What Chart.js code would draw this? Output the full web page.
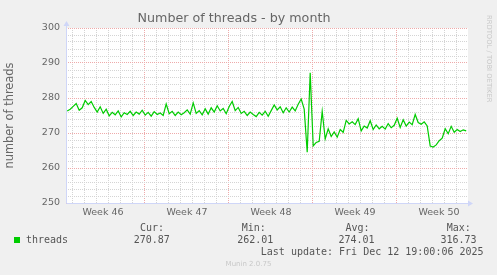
<!DOCTYPE html>
<html>
<head>
<meta charset="utf-8">
<title>Number of threads - by month</title>
<script src="https://cdn.jsdelivr.net/npm/chart.js@4.4.1/dist/chart.umd.min.js"></script>
<style>
  body { margin: 0; background: #f0f0f0; }
  #wrap { position: relative; width: 497px; height: 275px; }
  #c { position: absolute; left: 0; top: 0; }
  .mono { position: absolute; font: 10px "DejaVu Sans Mono", monospace; line-height: 12px; color: #555; white-space: pre; }
  .box { position: absolute; left: 14px; top: 237px; width: 6px; height: 6px; background: #00cc00; }
  .mark { position: absolute; font: 7px "DejaVu Sans", sans-serif; color: #c8c8c8; white-space: pre; }
  #rrd { left: 484.5px; top: 15px; line-height: 8px; font-size: 6.8px; writing-mode: vertical-rl; }
  #munin { left: 0; width: 497px; top: 260px; line-height: 9px; text-align: center; }
</style>
</head>
<body>
<div id="wrap">
  <canvas id="c" width="497" height="275"></canvas>
  <div class="box"></div>
  <div class="mark" id="rrd">RRDTOOL / TOBI OETIKER</div>
  <div class="mark" id="munin">Munin 2.0.75</div>
</div>
<script>
// ---- data ----
const weekLabels = ['Week 46', 'Week 47', 'Week 48', 'Week 49', 'Week 50'];
const weekLabelDays = [2.58, 9.58, 16.58, 23.58, 30.58];
const weekStartDays = [6, 13, 20, 27];
const yMajorTicks = [250, 260, 270, 280, 290, 300];

// one sample every 6 hours, first one at day -0.4
const startDay = -0.4;
const stepDay = 0.25;
const threads = [
    276.3, 276.8, 277.6, 278.4, 276.5, 277.2, 279.3, 278.1, 279.0, 277.3,
    276.0, 277.5, 275.6, 276.8, 274.9, 275.9, 275.2, 276.3, 274.6, 275.8,
    275.3, 276.2, 275.0, 276.0, 275.4, 276.5, 275.1, 275.9, 274.8, 276.1,
    275.3, 275.7, 275.0, 278.3, 275.5, 276.2, 275.0, 276.0, 275.2, 275.8,
    276.6, 275.4, 278.6, 275.6, 276.4, 275.2, 276.9, 275.4, 277.2, 276.0,
    277.8, 276.3, 277.0, 275.5, 277.6, 279.0, 276.4, 277.3, 275.6, 276.2,
    275.0, 276.0, 275.3, 274.7, 275.9, 275.1, 276.2, 274.8, 276.4, 278.0,
    276.6, 277.5, 275.8, 277.2, 276.0, 277.4, 276.3, 278.2, 279.7, 276.8,
    264.5, 287.2, 266.3, 267.3, 267.6, 276.2, 268.3, 271.2, 269.0, 270.3,
    268.8, 271.0, 270.2, 273.6, 272.6, 273.2, 272.4, 274.1, 270.6, 272.0,
    271.4, 273.5, 271.0, 272.3, 271.2, 271.9, 271.1, 272.7, 271.5, 272.2,
    274.2, 271.6, 273.8, 272.0, 273.1, 272.4, 275.3, 273.0, 272.5, 273.2,
    272.0, 266.3, 266.0, 266.6, 267.8, 268.5, 271.2, 269.8, 271.9, 270.2,
    271.0, 270.4, 270.9, 270.6
];

const legendHeads = ['Cur:', 'Min:', 'Avg:', 'Max:'];
const legendValues = ['270.87', '262.01', '274.01', '316.73'];
const lastUpdate = 'Last update: Fri Dec 12 19:00:06 2025';

// ---- legend block (plain text under the graph) ----
const wrap = document.getElementById('wrap');
function addText(txt, left, top) {
    const d = document.createElement('div');
    d.className = 'mono';
    d.textContent = txt;
    d.style.left = left + 'px';
    d.style.top = top + 'px';
    wrap.appendChild(d);
}
const headLeft = [140, 241.7, 345.5, 446.8];
const valLeft = [133.7, 237.2, 338.4, 440.4];
legendHeads.forEach((h, i) => addText(h, headLeft[i], 221.5));
addText('threads', 26, 233.8);
legendValues.forEach((v, i) => addText(v, valLeft[i], 233.8));
addText(lastUpdate, 260.8, 246.2);

// ---- chart ----
const MGRID = '#eeaaaa';
const GRID = '#d4d4d4';
const AXIS = '#cfd6f8';

const canvasBg = {
    id: 'canvasBg',
    beforeDraw(chart) {
        const { ctx, chartArea: a } = chart;
        ctx.save();
        ctx.fillStyle = '#ffffff';
        ctx.fillRect(a.left, a.top, a.right - a.left, a.bottom - a.top);
        ctx.restore();
    }
};

// rrdtool style axis lines with little arrow heads
const axisArrows = {
    id: 'axisArrows',
    afterDraw(chart) {
        const { ctx, chartArea: a } = chart;
        const x0 = Math.round(a.left) + 0.5;
        const y0 = Math.round(a.bottom) + 0.5;
        ctx.save();
        ctx.strokeStyle = AXIS;
        ctx.fillStyle = AXIS;
        ctx.lineWidth = 1;
        ctx.beginPath();
        ctx.moveTo(x0, y0);
        ctx.lineTo(x0, a.top - 3);
        ctx.moveTo(x0, y0);
        ctx.lineTo(a.right + 2, y0);
        ctx.stroke();
        ctx.beginPath();
        ctx.moveTo(x0, a.top - 7);
        ctx.lineTo(x0 - 3, a.top - 2);
        ctx.lineTo(x0 + 3, a.top - 2);
        ctx.closePath();
        ctx.fill();
        ctx.beginPath();
        ctx.moveTo(a.right + 5, y0);
        ctx.lineTo(a.right, y0 - 3);
        ctx.lineTo(a.right, y0 + 3);
        ctx.closePath();
        ctx.fill();
        ctx.restore();
    }
};

const tickFont = { family: 'DejaVu Sans', size: 9.5 };

new Chart(document.getElementById('c'), {
    type: 'line',
    data: {
        datasets: [{
            label: 'threads',
            data: threads.map((v, i) => ({ x: startDay + i * stepDay, y: v })),
            borderColor: '#00cc00',
            borderWidth: 1.2,
            pointRadius: 0,
            tension: 0,
            fill: false
        }]
    },
    options: {
        responsive: false,
        animation: false,
        events: [],
        layout: { padding: { left: 0, right: 29, top: 0, bottom: 52 } },
        plugins: {
            legend: { display: false },
            tooltip: { enabled: false },
            title: {
                display: true,
                text: 'Number of threads - by month',
                color: '#666',
                font: { family: 'DejaVu Sans', size: 12.7, weight: 'normal' },
                padding: { top: 11.4, bottom: 1.36 }
            }
        },
        scales: {
            x: {
                type: 'linear',
                min: -0.5,
                max: 33,
                afterBuildTicks: s => {
                    const vals = [];
                    for (let d = 0; d <= 32; d++) vals.push(d);
                    s.ticks = vals.concat(weekLabelDays).sort((a, b) => a - b).map(v => ({ value: v }));
                },
                afterFit: s => { s.height = 20; },
                ticks: {
                    autoSkip: false,
                    maxRotation: 0,
                    padding: 4,
                    color: '#666',
                    font: tickFont,
                    callback: v => {
                        const k = weekLabelDays.indexOf(v);
                        return k >= 0 ? weekLabels[k] : '';
                    }
                },
                grid: {
                    drawTicks: false,
                    lineWidth: 1,
                    color: c => {
                        const v = c.tick.value;
                        if (!Number.isInteger(v)) return 'rgba(0,0,0,0)';
                        return weekStartDays.includes(v) ? MGRID : GRID;
                    }
                },
                border: { display: false, dash: [1, 1] }
            },
            y: {
                min: 250,
                max: 300,
                afterBuildTicks: s => {
                    const vals = [];
                    for (let v = 250; v <= 300; v += 2) vals.push({ value: v });
                    s.ticks = vals;
                },
                afterFit: s => { s.width = 66; },
                ticks: {
                    autoSkip: false,
                    padding: 6,
                    color: '#666',
                    font: tickFont,
                    callback: v => yMajorTicks.includes(v) ? String(v) : ''
                },
                title: {
                    display: true,
                    text: 'number of threads',
                    color: '#666',
                    font: { family: 'DejaVu Sans', size: 11.4 },
                    padding: { top: 3, bottom: 0 }
                },
                grid: {
                    drawTicks: false,
                    lineWidth: 1,
                    color: c => yMajorTicks.includes(c.tick.value) ? MGRID : GRID
                },
                border: { display: false, dash: [1, 1] }
            }
        }
    },
    plugins: [canvasBg, axisArrows]
});
</script>
</body>
</html>
